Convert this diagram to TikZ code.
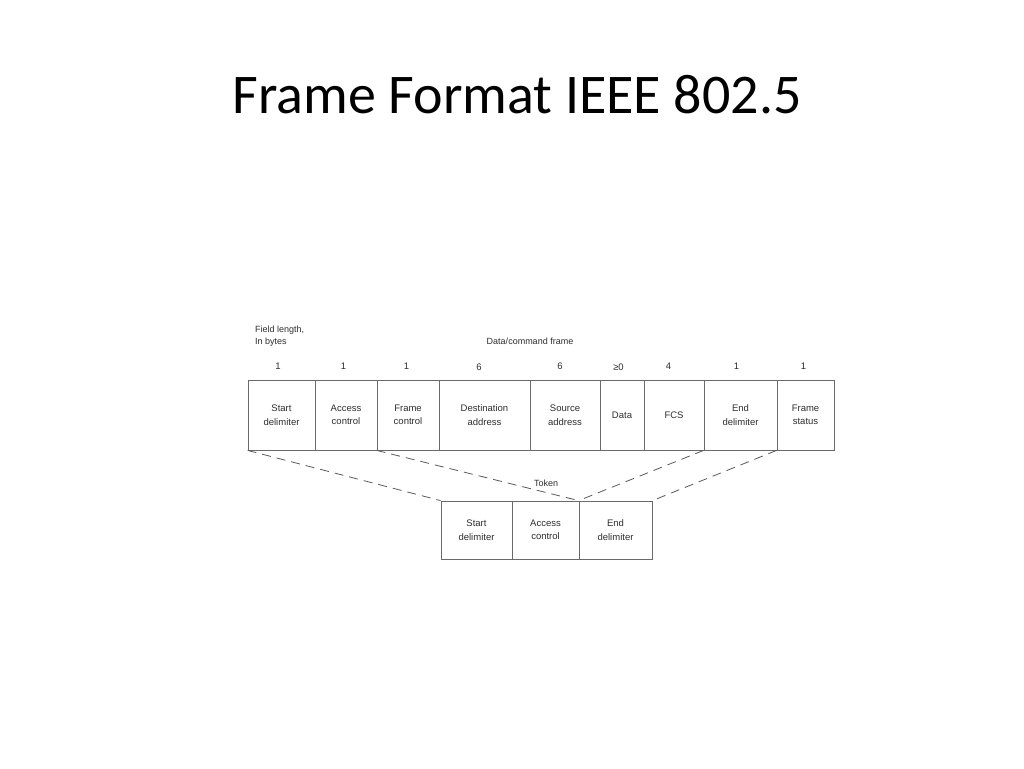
\documentclass[tikz,border=0pt]{standalone}
\usepackage{fontspec}
\setmainfont{Liberation Sans}
\newfontfamily\titlefont{Carlito}
\definecolor{boxgray}{HTML}{6A6A6A}
\definecolor{txtgray}{HTML}{2E2E2E}
\definecolor{dashgray}{HTML}{5A5A5A}
\begin{document}
\begin{tikzpicture}[x=1pt,y=-1pt,
  fld/.style={draw=boxgray, line width=0.8pt, inner sep=0pt, minimum height=70pt,
    align=center, font=\fontsize{9.5}{13.5}\selectfont, text=txtgray},
  tok/.style={fld, minimum height=58pt},
  num/.style={inner sep=0pt, font=\fontsize{9.5}{11}\selectfont, text=txtgray},
  lbl/.style={inner sep=0pt, font=\fontsize{9}{11.5}\selectfont, text=txtgray},
  dashline/.style={draw=dashgray, line width=0.8pt, dash pattern=on 9pt off 6pt}]
\useasboundingbox[fill=white] (0,0) rectangle (1024,768);
\node[anchor=base, inner sep=0pt, font=\titlefont\fontsize{56}{60}\selectfont] (title) at (517,113) {Frame Format IEEE 802.5};

\node[lbl, anchor=north west, align=left] (fl) at (255,326) {Field length,\\In bytes};
\node[lbl] (dcf) at (530,341) {Data/command frame};

% frame fields
\node[fld, minimum width=67pt] (sd) at (281.5,415) {Start\\delimiter};
\node[fld, minimum width=62pt] (ac) at (346,415) {Access\\control};
\node[fld, minimum width=62pt] (fc) at (408,415) {Frame\\control};
\node[fld, minimum width=91pt] (da) at (484.5,415) {Destination\\address};
\node[fld, minimum width=70pt] (sa) at (565,415) {Source\\address};
\node[fld, minimum width=44pt] (dt) at (622,415) {Data};
\node[fld, minimum width=60pt] (fcs) at (674,415) {FCS};
\node[fld, minimum width=73pt] (ed) at (740.5,415) {End\\delimiter};
\node[fld, minimum width=57pt] (fs) at (805.5,415) {Frame\\status};

% field lengths
\node[num] (n1) at (278,366) {1};
\node[num] (n2) at (343.5,366) {1};
\node[num] (n3) at (406.5,366) {1};
\node[num] (n4) at (479,367) {6};
\node[num] (n5) at (560,366) {6};
\node[num] (n6) at (618.5,367) {≥0};
\node[num] (n7) at (668.5,366) {4};
\node[num] (n8) at (736.5,366) {1};
\node[num] (n9) at (803.5,366) {1};

% token
\node[lbl] (tl) at (546,483.5) {Token};
\node[tok, minimum width=71pt] (tsd) at (476.5,530) {Start\\delimiter};
\node[tok, minimum width=67pt] (tac) at (545.5,530) {Access\\control};
\node[tok, minimum width=73pt] (ted) at (615.5,530) {End\\delimiter};

% dashed connectors
\draw[dashline] (sd.south west) -- (tsd.north west);
\draw[dashline] (fc.south west) -- (ted.north west);
\draw[dashline] (ed.south west) -- (ted.north west);
\draw[dashline] (fs.south west) -- (ted.north east);
\end{tikzpicture}
\end{document}
